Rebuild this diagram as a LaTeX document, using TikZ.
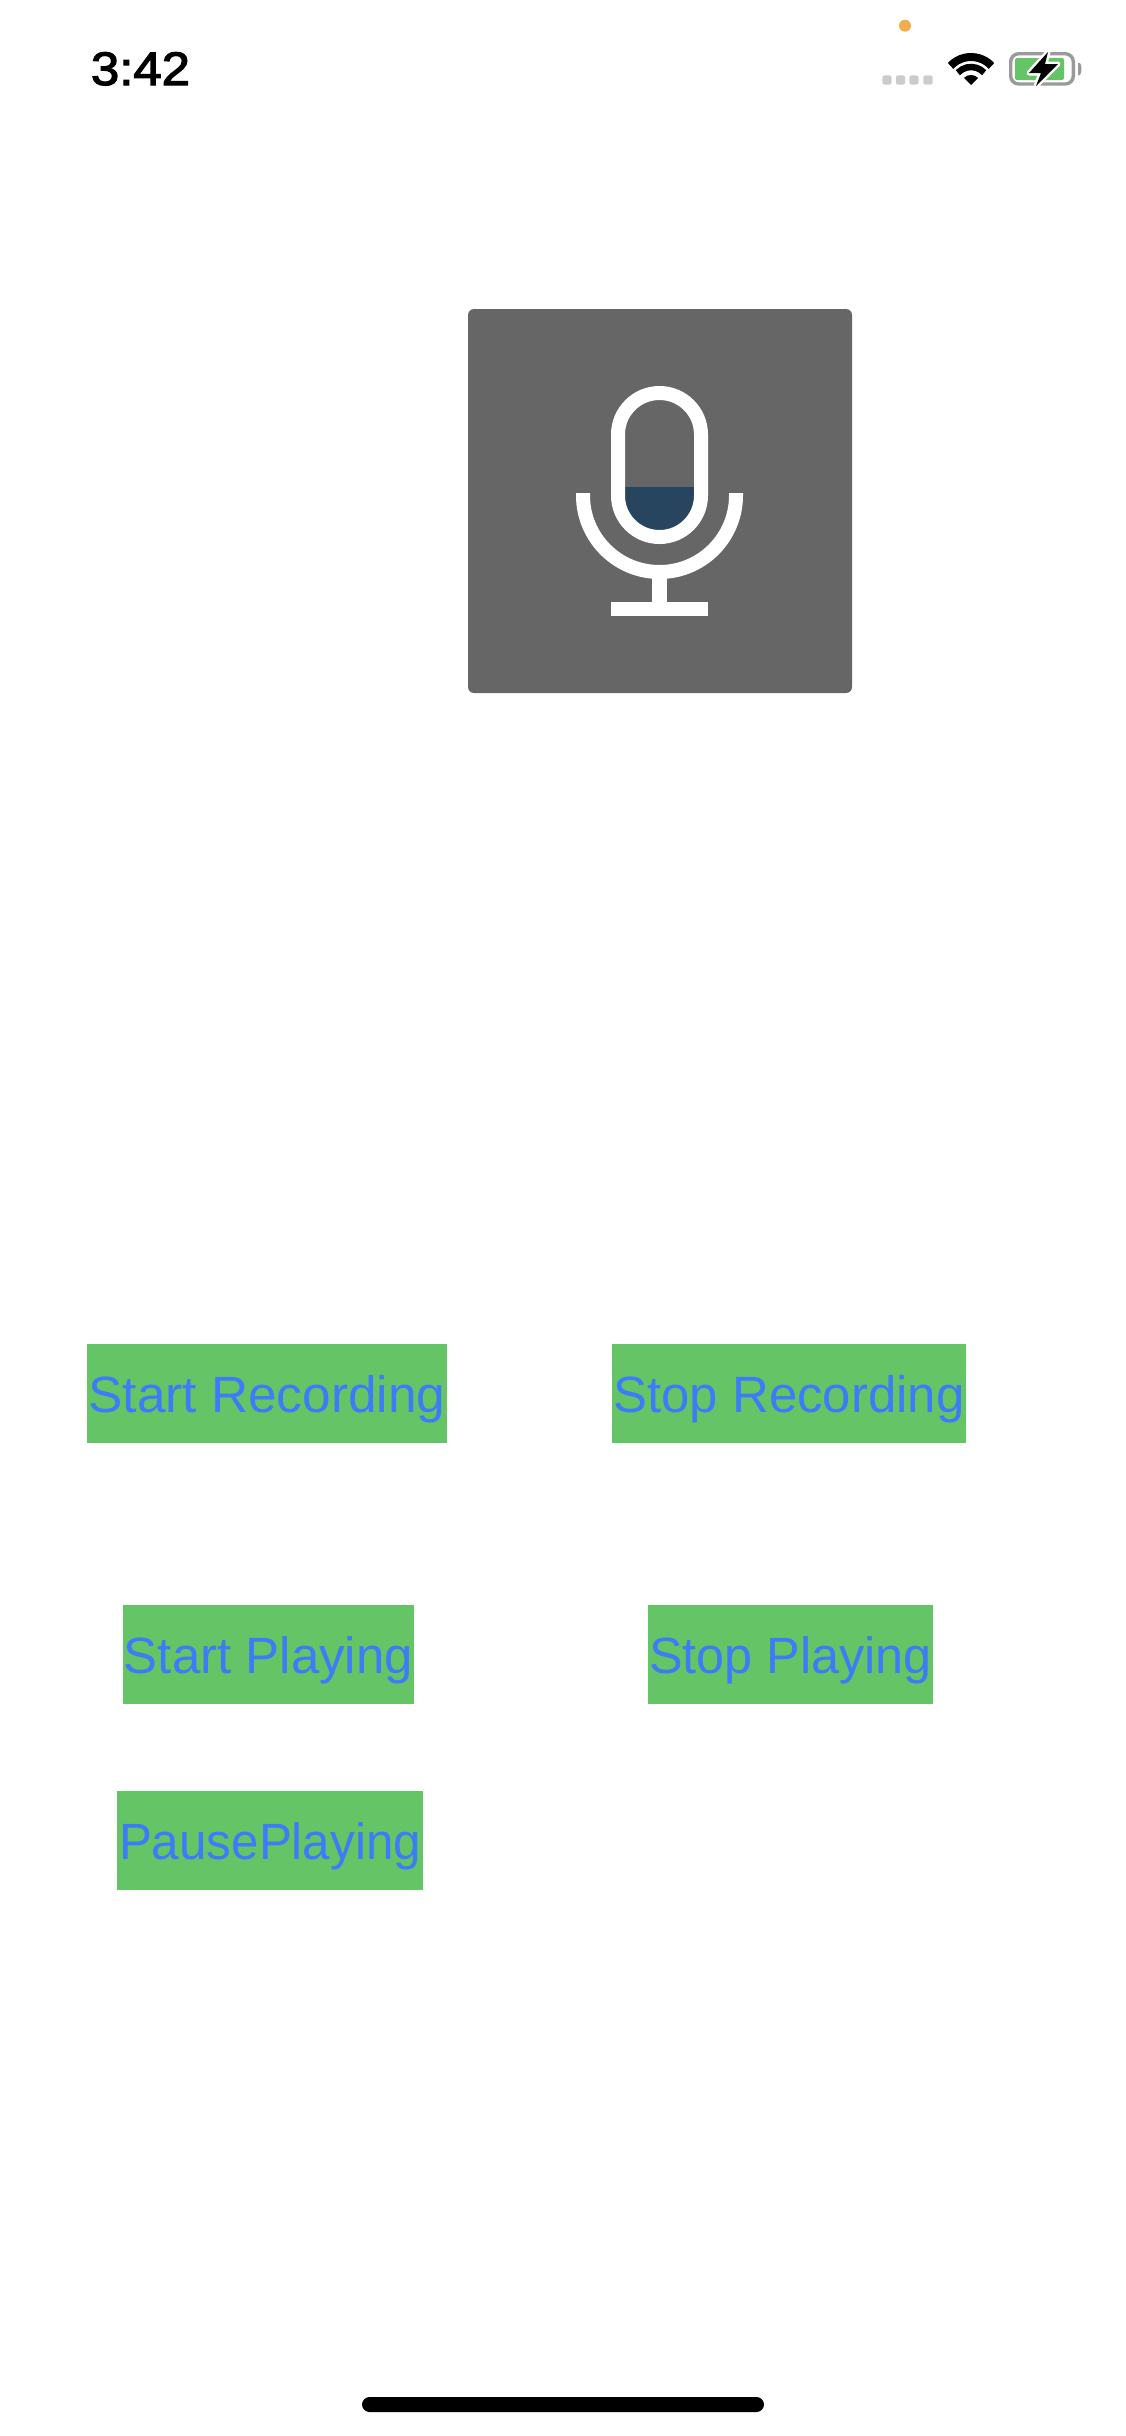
\documentclass[tikz,border=0pt]{standalone}
\usepackage{fontspec}
\usepackage{graphicx}
\setmainfont{Liberation Sans}
\definecolor{btngreen}{HTML}{65C466}
\definecolor{btnblue}{HTML}{3C7CF8}
\definecolor{panelgray}{HTML}{666666}
\definecolor{levelnavy}{HTML}{28455F}
\definecolor{dotorange}{HTML}{F4AC4C}
\definecolor{signalgray}{HTML}{CBCBCB}
\definecolor{battgray}{HTML}{9A9A9A}
\newcommand{\fitw}[2]{\resizebox{#1pt}{\height}{#2}}
\newfontfamily\clockfont[FakeBold=2.5]{Liberation Sans}
\tikzset{
  btn/.style={fill=btngreen,text=btnblue,inner sep=0pt,minimum height=99pt,
    text height=49pt,text depth=12pt,align=center,font=\fontsize{51pt}{51pt}\selectfont},
  micline/.style={draw=white,line width=14pt},
  micfill/.style={fill=white},
  sigdot/.style={fill=signalgray,rounded corners=2.5pt},
  wifiband/.style={draw=black,line cap=butt},
}
\begin{document}
\begin{tikzpicture}[x=1pt,y=-1pt]
\useasboundingbox (0,0) rectangle (1125,2436);
\fill[white] (0,0) rectangle (1125,2436);

% status bar
\node[anchor=base,inner sep=0pt,font=\fontsize{47pt}{47pt}\selectfont\clockfont] (clock) at (140.5,85) {\fitw{99}{3:42}};
\fill[dotorange] (905,25.7) circle[radius=6pt];
\fill[sigdot] (882.3,75.3) rectangle (891.7,84.7);
\fill[sigdot] (895.8,75.3) rectangle (905.2,84.7);
\fill[sigdot] (909.3,75.3) rectangle (918.7,84.7);
\fill[sigdot] (923.3,75.3) rectangle (932.7,84.7);

% wifi
\coordinate (wifi) at (971,85);
\draw[wifiband,line width=8pt] (wifi) ++(43:28pt) arc[start angle=43,end angle=137,radius=28pt];
\draw[wifiband,line width=6.5pt] (wifi) ++(43:18pt) arc[start angle=43,end angle=137,radius=18pt];
\fill (wifi) -- ++(45:10pt) arc[start angle=45,end angle=135,radius=10pt] -- cycle;

% battery
\draw[battgray,line width=3.4pt,rounded corners=8pt] (1010.7,53.7) rectangle (1073.3,84);
\fill[btngreen,rounded corners=2pt] (1015,58) rectangle (1064,80);
\fill[battgray] (1078,63) -- (1080,63) .. controls (1082,65) and (1082,73) .. (1080,75) -- (1078,75) -- cycle;
\draw[white,line width=5pt,line join=round]
  (1048,52) -- (1029,73) -- (1041,73) -- (1036,86) -- (1058,64) -- (1045,64) -- cycle;
\fill[black]
  (1048,52) -- (1029,73) -- (1041,73) -- (1036,86) -- (1058,64) -- (1045,64) -- cycle;

% microphone panel
\fill[panelgray,rounded corners=6pt] (468,309) rectangle (852,693);
\begin{scope}
  \clip[rounded corners=41.5pt] (618,393) rectangle (701,537);
  \fill[levelnavy] (610,487) rectangle (710,545);
\end{scope}
\draw[micline,rounded corners=41.5pt] (618,393) rectangle (701,537);
\draw[micline] (583,493) -- (583,495.5) arc[start angle=180,end angle=360,radius=76.5pt] -- (736,493);
\fill[micfill] (652,575) rectangle (667,602);
\fill[micfill] (611,602) rectangle (708,616);

% buttons
\node[btn,minimum width=360pt] (startrec) at (267,1393.5) {\fitw{357}{Start Recording}};
\node[btn,minimum width=354pt] (stoprec) at (789,1393.5) {\fitw{351}{Stop Recording}};
\node[btn,minimum width=291pt] (startplay) at (268.5,1654.5) {\fitw{289}{Start Playing}};
\node[btn,minimum width=285pt] (stopplay) at (790.5,1654.5) {\fitw{283}{Stop Playing}};
\node[btn,minimum width=306pt] (pauseplay) at (270,1840.5) {\fitw{302}{PausePlaying}};

% home indicator
\fill[rounded corners=7.5pt] (362,2397) rectangle (764,2412);
\end{tikzpicture}
\end{document}
